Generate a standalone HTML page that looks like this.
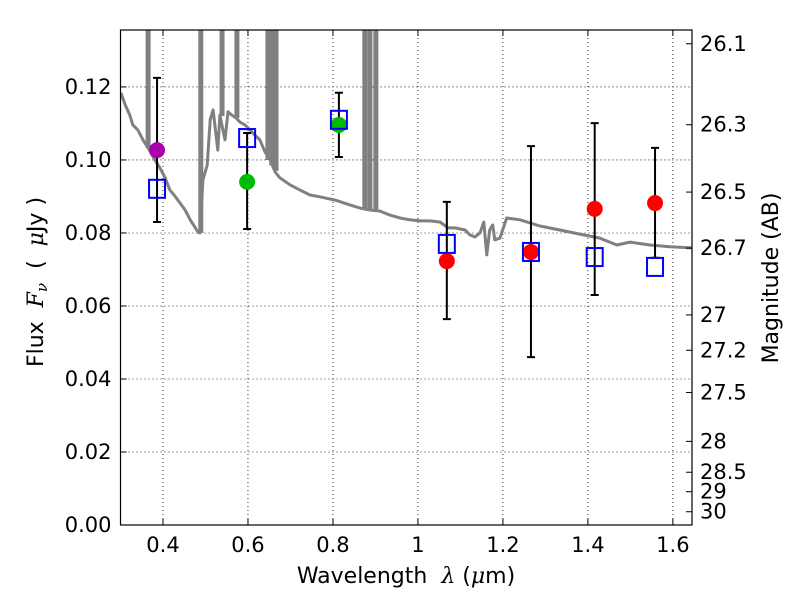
<!DOCTYPE html>
<html><head><meta charset="utf-8"><style>
body{margin:0;background:#fff}
svg{font-family:"DejaVu Sans","Liberation Sans",sans-serif}
</style></head><body>
<svg id="c" width="800" height="600" xmlns="http://www.w3.org/2000/svg">
<defs><clipPath id="pc"><rect x="120.5" y="30" width="571.5" height="495"/></clipPath></defs>
<rect width="800" height="600" fill="#fff"/>
<g id="grid"></g>
<g id="marks" clip-path="url(#pc)"></g>
<g id="axes"></g>
<text x="406" y="583" font-size="22" text-anchor="middle" xml:space="preserve">Wavelength  <tspan font-style="italic" font-family="DejaVu Serif,serif">λ</tspan> (<tspan font-style="italic" font-family="DejaVu Serif,serif">μ</tspan>m)</text>
<text transform="translate(43,282) rotate(-90)" font-size="22" text-anchor="middle" xml:space="preserve">Flux  <tspan font-style="italic" font-family="DejaVu Serif,serif">F</tspan><tspan font-style="italic" font-size="15" dy="4" font-family="DejaVu Serif,serif">ν</tspan><tspan dy="-4">  (  </tspan><tspan font-style="italic" font-family="DejaVu Serif,serif">μ</tspan>Jy )</text>
<text transform="translate(778,278) rotate(-90)" font-size="22" text-anchor="middle">Magnitude (AB)</text>
</svg>
<script>
const specWave=[0.301,0.311,0.322,0.329,0.341,0.353,0.365,0.381,0.393,0.405,0.416,0.428,0.440,0.452,0.464,0.475,0.482,0.487,0.494,0.504,0.511,0.518,0.529,0.534,0.546,0.553,0.562,0.572,0.581,0.593,0.605,0.616,0.628,0.640,0.652,0.664,0.675,0.699,0.722,0.746,0.769,0.805,0.840,0.864,0.887,0.911,0.934,0.958,0.981,1.005,1.028,1.052,1.071,1.087,1.111,1.122,1.134,1.146,1.155,1.162,1.169,1.176,1.181,1.193,1.209,1.240,1.287,1.334,1.381,1.428,1.468,1.499,1.546,1.593,1.645];
const specFlux=[0.1184,0.1151,0.1123,0.1096,0.1082,0.1055,0.1033,0.1000,0.0978,0.0951,0.0918,0.0901,0.0882,0.0863,0.0836,0.0816,0.0803,0.0800,0.0945,0.0986,0.1110,0.1137,0.1027,0.1123,0.1055,0.1132,0.1123,0.1115,0.1104,0.1096,0.1082,0.1068,0.1055,0.1022,0.1000,0.0967,0.0951,0.0932,0.0918,0.0904,0.0899,0.0890,0.0877,0.0868,0.0863,0.0860,0.0849,0.0841,0.0836,0.0833,0.0833,0.0830,0.0814,0.0814,0.0808,0.0795,0.0789,0.0800,0.0830,0.0740,0.0808,0.0822,0.0781,0.0786,0.0841,0.0836,0.0819,0.0808,0.0797,0.0786,0.0767,0.0775,0.0767,0.0762,0.0759];
const lineWave=[0.365,0.489,0.539,0.574,0.647,0.656,0.666,0.875,0.887,0.901];
const lineBase=[0.1033,0.0800,0.1120,0.1115,0.1000,0.0985,0.0970,0.0865,0.0863,0.0861];
const obsWave=[0.386,0.598,0.814,1.068,1.266,1.416,1.558];
const obsFlux=[0.1027,0.0940,0.1096,0.0723,0.0748,0.0866,0.0882];
const obsLo=[0.0830,0.0811,0.1008,0.0564,0.0460,0.0630,0.0732];
const obsHi=[0.1225,0.1074,0.1184,0.0885,0.1038,0.1101,0.1033];
const obsColor=['#aa00aa','#00bb00','#00bb00','#ff0000','#ff0000','#ff0000','#ff0000'];
const modelFlux=[0.0921,0.1060,0.1110,0.0770,0.0748,0.0734,0.0707];
const xTicks=[0.4,0.6,0.8,1.0,1.2,1.4,1.6];
const xTickLabels=['0.4','0.6','0.8','1','1.2','1.4','1.6'];
const yTicks=[0,0.02,0.04,0.06,0.08,0.10,0.12];
const yTickLabels=['0.00','0.02','0.04','0.06','0.08','0.10','0.12'];
const magTicks=[26.1,26.3,26.5,26.7,27,27.2,27.5,28,28.5,29,30];
const magLabels=['26.1','26.3','26.5','26.7','27','27.2','27.5','28','28.5','29','30'];

const X0=120.5,X1=692,Y0=525,Y1=30;
const xmin=0.3,xmax=1.645,ymin=0,ymax=0.1356;
const sx=v=>X0+(v-xmin)/(xmax-xmin)*(X1-X0);
const sy=v=>Y0-(v-ymin)/(ymax-ymin)*(Y0-Y1);
const NS='http://www.w3.org/2000/svg';
function mk(parent,tag,attrs){const e=document.createElementNS(NS,tag);for(const k in attrs)e.setAttribute(k,attrs[k]);document.getElementById(parent).appendChild(e);return e;}

xTicks.forEach((t,i)=>{
 const l=mk('grid','line',{x1:sx(t),x2:sx(t),y1:Y1,y2:Y0,stroke:'#000','stroke-width':0.8,'stroke-dasharray':'1,3'});
 
 
});
yTicks.forEach((t,i)=>{
 const l=mk('grid','line',{x1:X0,x2:X1,y1:sy(t),y2:sy(t),stroke:'#000','stroke-width':0.8,'stroke-dasharray':'1,3'});
 
 
});

let d=specWave.map((w,i)=>(i?'L':'M')+sx(w).toFixed(1)+','+sy(specFlux[i]).toFixed(1)).join('');
const sp=mk('marks','path',{d:d,fill:'none',stroke:'#808080','stroke-width':3,'stroke-linejoin':'round'});


lineWave.forEach((w,i)=>{
 const e=mk('marks','path',{d:'M'+(sx(w)-1)+','+sy(lineBase[i])+'L'+(sx(w)-1)+','+(Y1-5)+'M'+(sx(w)+1)+','+(Y1-5)+'L'+(sx(w)+1)+','+sy(lineBase[i]),fill:'none',stroke:'#808080','stroke-width':3});
 
 
});
obsWave.forEach((w,i)=>{
 const x=sx(w);
 const e=mk('marks','path',{d:`M${x},${sy(obsLo[i])}L${x},${sy(obsHi[i])}M${x-4},${sy(obsLo[i])}L${x+4},${sy(obsLo[i])}M${x-4},${sy(obsHi[i])}L${x+4},${sy(obsHi[i])}`,stroke:'#000','stroke-width':2,fill:'none'});
 
 
});
obsWave.forEach((w,i)=>{
 const c=mk('marks','circle',{cx:sx(w),cy:sy(obsFlux[i]),r:8,fill:obsColor[i]});
 
 
});
obsWave.forEach((w,i)=>{
 const r=mk('marks','rect',{x:sx(w)-8,y:sy(modelFlux[i])-9,width:16,height:18,fill:'none',stroke:'#0000ff','stroke-width':2});
 
 
});

const fr=mk('axes','rect',{x:X0,y:Y1,width:X1-X0,height:Y0-Y1,fill:'none',stroke:'#000','stroke-width':1.2});


xTicks.forEach((t,i)=>{
 const k=mk('axes','path',{d:`M${sx(t)},${Y0}L${sx(t)},${Y0-6}M${sx(t)},${Y1}L${sx(t)},${Y1+6}`,stroke:'#000'});
 
 
 const tx=mk('axes','text',{x:sx(t),y:Y0+27,'font-size':21,'text-anchor':'middle'});
 tx.textContent=xTickLabels[i];
 
 
});
yTicks.forEach((t,i)=>{
 const k=mk('axes','path',{d:`M${X0},${sy(t)}L${X0+6},${sy(t)}`,stroke:'#000'});
 
 
 const tx=mk('axes','text',{x:X0-9,y:sy(t)+7,'font-size':21,'text-anchor':'end'});
 tx.textContent=yTickLabels[i];
 
 
});
magTicks.forEach((m,i)=>{
 const f=Math.pow(10,(23.9-m)/2.5);
 const k=mk('axes','path',{d:`M${X1},${sy(f)}L${X1-6},${sy(f)}`,stroke:'#000'});
 
 
 const tx=mk('axes','text',{x:X1+8,y:sy(f)+7,'font-size':21});
 tx.textContent=magLabels[i];
 
 
});
</script>
</body></html>
